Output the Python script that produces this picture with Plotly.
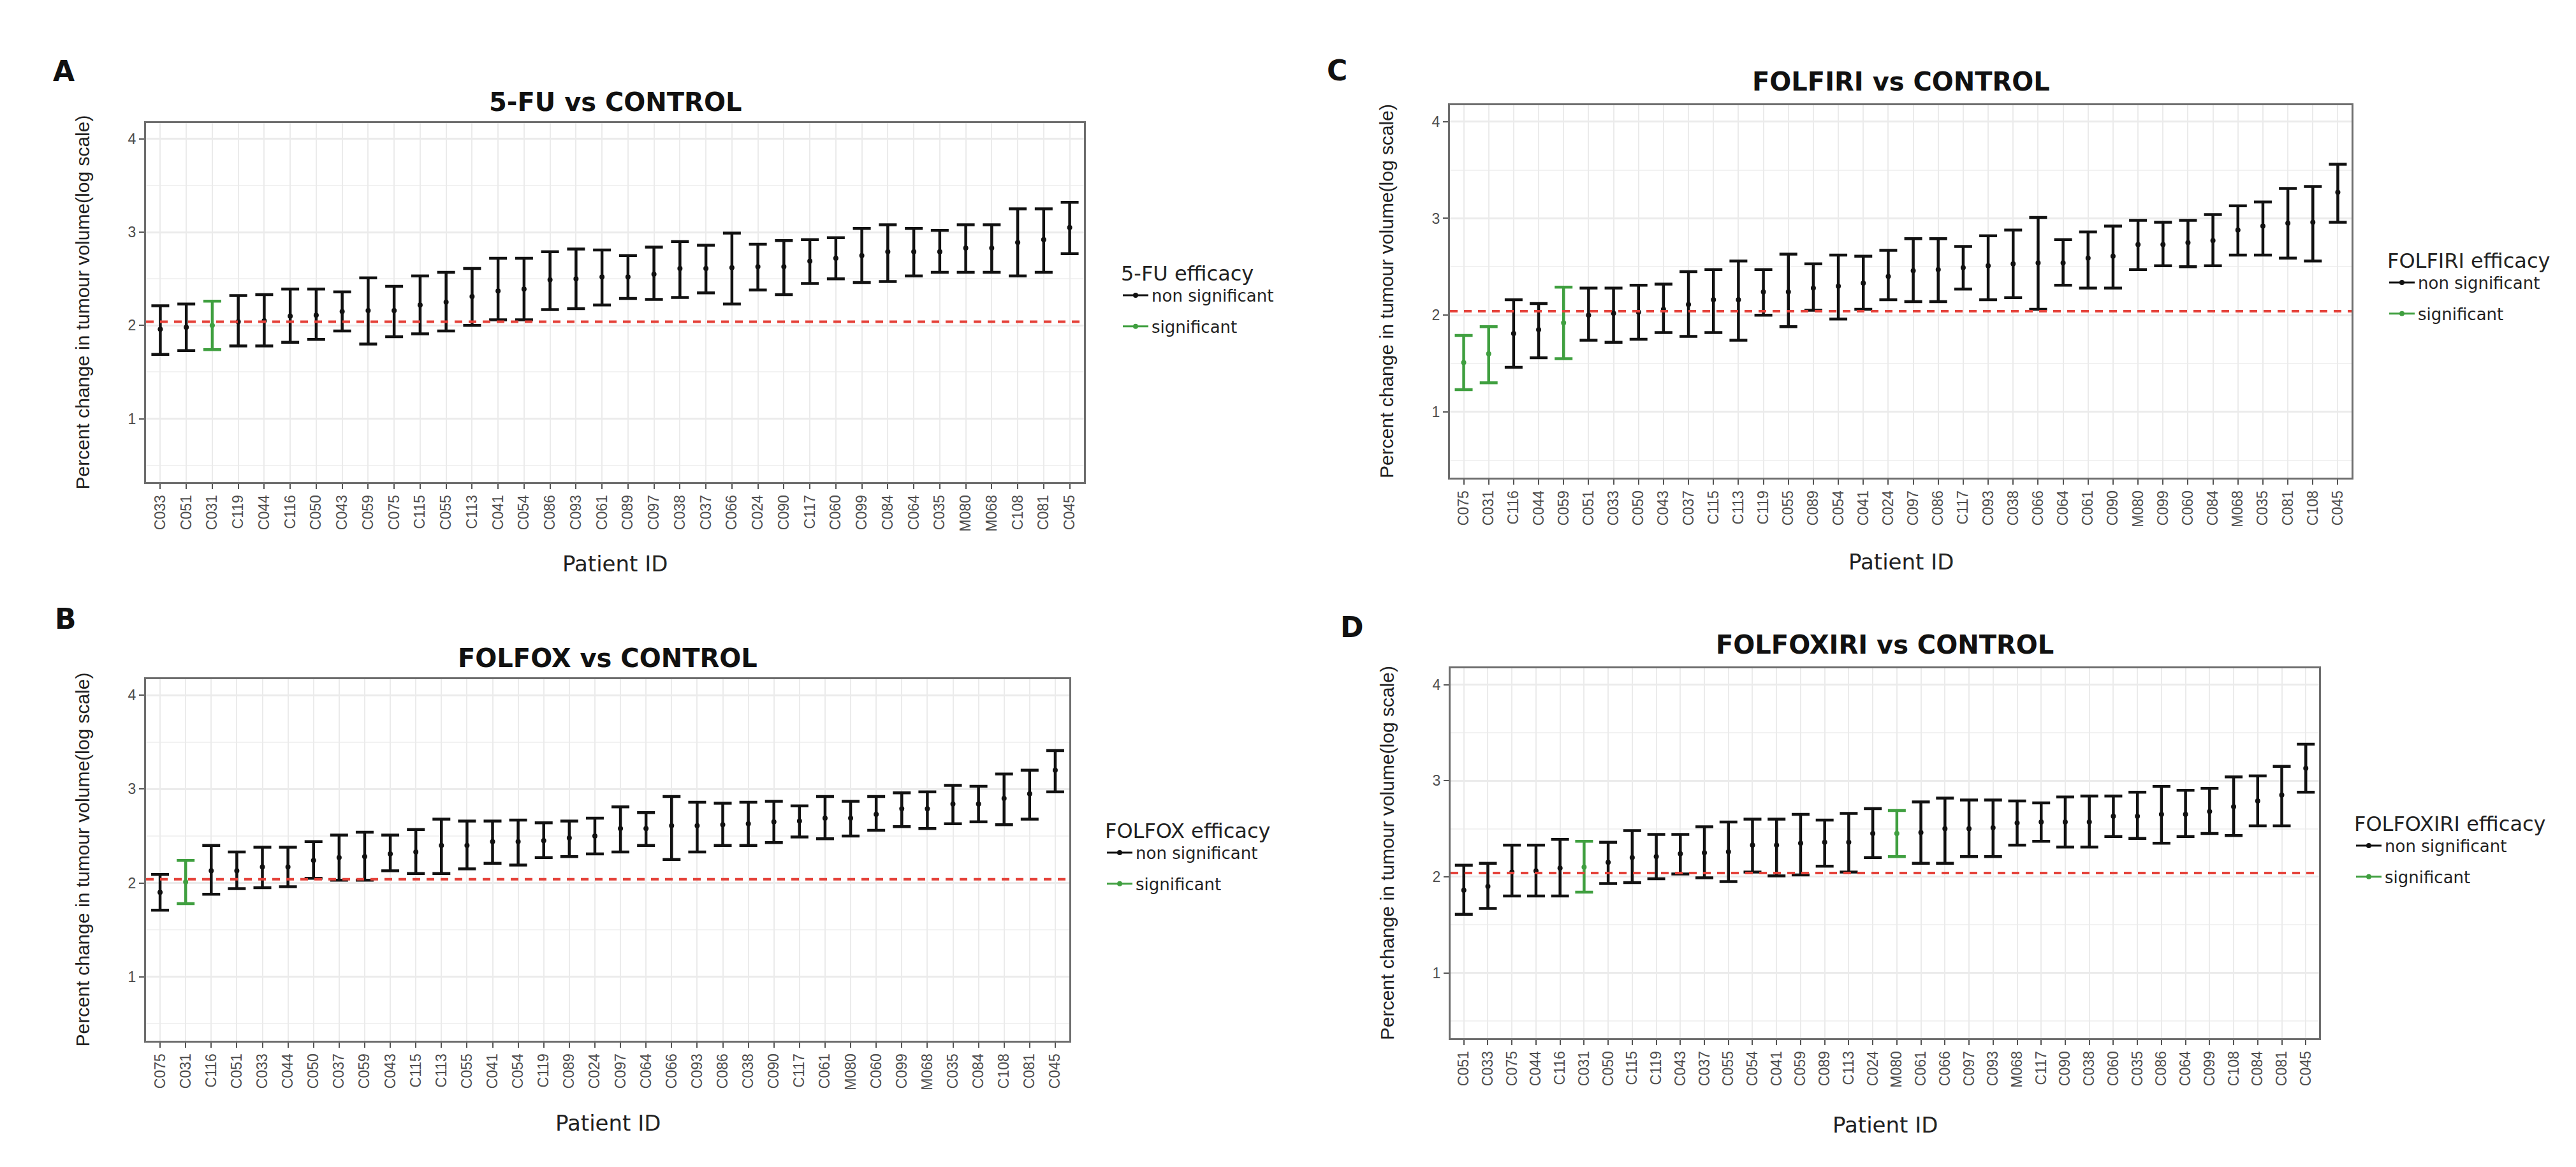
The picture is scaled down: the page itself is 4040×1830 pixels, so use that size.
import plotly.graph_objects as go

# ------------------------------------------------------------------ data
REF_LINE = 2.04  # control reference (red dashed line)

fu_ids = ["C033", "C051", "C031", "C119", "C044", "C116", "C050", "C043", "C059", "C075",
          "C115", "C055", "C113", "C041", "C054", "C086", "C093", "C061", "C089", "C097",
          "C038", "C037", "C066", "C024", "C090", "C117", "C060", "C099", "C084", "C064",
          "C035", "M080", "M068", "C108", "C081", "C045"]
fu_mean = [1.96, 1.98, 2.00, 2.04, 2.05, 2.10, 2.11, 2.15, 2.16, 2.16,
           2.22, 2.25, 2.31, 2.37, 2.39, 2.49, 2.50, 2.52, 2.52, 2.55,
           2.61, 2.61, 2.62, 2.63, 2.63, 2.69, 2.72, 2.75, 2.79, 2.79,
           2.79, 2.83, 2.83, 2.89, 2.92, 3.05]
fu_low = [1.69, 1.73, 1.74, 1.78, 1.78, 1.82, 1.85, 1.94, 1.80, 1.88,
          1.91, 1.94, 2.00, 2.06, 2.06, 2.17, 2.18, 2.22, 2.29, 2.28,
          2.30, 2.35, 2.23, 2.38, 2.33, 2.45, 2.50, 2.46, 2.47, 2.53,
          2.57, 2.57, 2.57, 2.53, 2.57, 2.77]
fu_high = [2.21, 2.23, 2.26, 2.32, 2.33, 2.39, 2.39, 2.36, 2.51, 2.42,
           2.53, 2.57, 2.61, 2.72, 2.72, 2.79, 2.82, 2.81, 2.75, 2.84,
           2.90, 2.86, 2.99, 2.87, 2.91, 2.92, 2.94, 3.04, 3.08, 3.04,
           3.02, 3.08, 3.08, 3.25, 3.25, 3.32]
fu_significant = ["C031"]

folfox_ids = ["C075", "C031", "C116", "C051", "C033", "C044", "C050", "C037", "C059", "C043",
              "C115", "C113", "C055", "C041", "C054", "C119", "C089", "C024", "C097", "C064",
              "C066", "C093", "C086", "C038", "C090", "C117", "C061", "M080", "C060", "C099",
              "M068", "C035", "C084", "C108", "C081", "C045"]
folfox_mean = [1.90, 2.01, 2.13, 2.13, 2.17, 2.17, 2.24, 2.27, 2.28, 2.31,
               2.33, 2.40, 2.40, 2.44, 2.44, 2.45, 2.48, 2.50, 2.58, 2.58,
               2.61, 2.61, 2.62, 2.63, 2.65, 2.66, 2.69, 2.69, 2.73, 2.79,
               2.79, 2.84, 2.84, 2.90, 2.95, 3.20]
folfox_low = [1.71, 1.78, 1.88, 1.94, 1.95, 1.96, 2.05, 2.03, 2.03, 2.13,
              2.10, 2.10, 2.15, 2.21, 2.19, 2.27, 2.28, 2.31, 2.33, 2.40,
              2.25, 2.33, 2.40, 2.40, 2.43, 2.49, 2.47, 2.50, 2.56, 2.60,
              2.58, 2.63, 2.65, 2.62, 2.68, 2.97]
folfox_high = [2.09, 2.24, 2.40, 2.33, 2.38, 2.38, 2.44, 2.51, 2.54, 2.51,
               2.57, 2.68, 2.66, 2.66, 2.67, 2.64, 2.66, 2.69, 2.81, 2.75,
               2.92, 2.86, 2.85, 2.86, 2.87, 2.82, 2.92, 2.87, 2.92, 2.96,
               2.97, 3.04, 3.03, 3.16, 3.20, 3.41]
folfox_significant = ["C031"]

folfiri_ids = ["C075", "C031", "C116", "C044", "C059", "C051", "C033", "C050", "C043", "C037",
               "C115", "C113", "C119", "C055", "C089", "C054", "C041", "C024", "C097", "C086",
               "C117", "C093", "C038", "C066", "C064", "C061", "C090", "M080", "C099", "C060",
               "C084", "M068", "C035", "C081", "C108", "C045"]
folfiri_mean = [1.51, 1.60, 1.81, 1.85, 1.92, 2.00, 2.02, 2.03, 2.06, 2.11,
                2.16, 2.16, 2.24, 2.24, 2.28, 2.30, 2.33, 2.40, 2.46, 2.47,
                2.49, 2.51, 2.53, 2.54, 2.54, 2.59, 2.61, 2.73, 2.73, 2.75,
                2.77, 2.88, 2.92, 2.95, 2.96, 3.27]
folfiri_low = [1.23, 1.30, 1.46, 1.56, 1.55, 1.74, 1.72, 1.75, 1.82, 1.78,
               1.82, 1.74, 2.00, 1.88, 2.05, 1.96, 2.06, 2.16, 2.14, 2.14,
               2.27, 2.16, 2.18, 2.06, 2.31, 2.28, 2.28, 2.47, 2.51, 2.50,
               2.51, 2.62, 2.62, 2.59, 2.56, 2.96]
folfiri_high = [1.79, 1.88, 2.16, 2.12, 2.29, 2.28, 2.28, 2.31, 2.32, 2.45,
                2.47, 2.56, 2.47, 2.63, 2.53, 2.62, 2.61, 2.67, 2.79, 2.79,
                2.71, 2.82, 2.88, 3.01, 2.78, 2.86, 2.92, 2.98, 2.96, 2.98,
                3.04, 3.13, 3.17, 3.31, 3.33, 3.56]
folfiri_significant = ["C075", "C031", "C059"]

folfoxiri_ids = ["C051", "C033", "C075", "C044", "C116", "C031", "C050", "C115", "C119", "C043",
                 "C037", "C055", "C054", "C041", "C059", "C089", "C113", "C024", "M080", "C061",
                 "C066", "C097", "C093", "M068", "C117", "C090", "C038", "C060", "C035", "C086",
                 "C064", "C099", "C108", "C084", "C081", "C045"]
folfoxiri_mean = [1.86, 1.90, 2.05, 2.06, 2.09, 2.10, 2.15, 2.20, 2.21, 2.24,
                  2.25, 2.26, 2.33, 2.33, 2.35, 2.36, 2.36, 2.45, 2.45, 2.46,
                  2.50, 2.50, 2.51, 2.56, 2.57, 2.57, 2.57, 2.63, 2.63, 2.65,
                  2.65, 2.68, 2.73, 2.79, 2.85, 3.13]
folfoxiri_low = [1.61, 1.67, 1.80, 1.80, 1.80, 1.84, 1.93, 1.94, 1.98, 2.03,
                 1.99, 1.95, 2.05, 2.01, 2.02, 2.11, 2.05, 2.20, 2.21, 2.14,
                 2.14, 2.21, 2.21, 2.33, 2.37, 2.31, 2.31, 2.42, 2.40, 2.35,
                 2.42, 2.45, 2.43, 2.53, 2.53, 2.88]
folfoxiri_high = [2.12, 2.14, 2.33, 2.33, 2.39, 2.37, 2.36, 2.48, 2.44, 2.44,
                  2.52, 2.57, 2.60, 2.60, 2.65, 2.59, 2.66, 2.71, 2.69, 2.78,
                  2.82, 2.80, 2.80, 2.79, 2.77, 2.83, 2.84, 2.84, 2.88, 2.94,
                  2.90, 2.92, 3.04, 3.05, 3.15, 3.38]
folfoxiri_significant = ["C031", "M080"]

y_tick_values = [1, 2, 3, 4]

# ------------------------------------------------------------------ layout helpers
PAGE_W, PAGE_H = 4024, 1814
OFF = 8  # default body margin of the page


def fx(px):
    return (px - OFF) / PAGE_W


def fy(py):
    return 1 - (py - OFF) / PAGE_H


BLACK = "#111111"
GREEN = "#3f9f3f"
GRID = "#ebebeb"
BORDER = "#6e6e6e"
TICKTXT = "#4d4d4d"

panels = [
    dict(ids=fu_ids, mean=fu_mean, low=fu_low, high=fu_high, sig=fu_significant,
         title="5-FU vs CONTROL", legend_title="5-FU efficacy", letter="A",
         dx=(229, 1700), dy=(193, 756), title_y=160, letter_xy=(100, 111),
         ytitle_x=129, xtitle_y=884, leg_x=1756, leg_top=398),
    dict(ids=folfox_ids, mean=folfox_mean, low=folfox_low, high=folfox_high, sig=folfox_significant,
         title="FOLFOX vs CONTROL", legend_title="FOLFOX efficacy", letter="B",
         dx=(229, 1677), dy=(1065, 1632), title_y=1032, letter_xy=(103, 970),
         ytitle_x=129, xtitle_y=1761, leg_x=1731, leg_top=1272),
    dict(ids=folfiri_ids, mean=folfiri_mean, low=folfiri_low, high=folfiri_high, sig=folfiri_significant,
         title="FOLFIRI vs CONTROL", legend_title="FOLFIRI efficacy", letter="C",
         dx=(2274, 3688), dy=(165, 749), title_y=128, letter_xy=(2097, 110),
         ytitle_x=2175, xtitle_y=881, leg_x=3742, leg_top=378),
    dict(ids=folfoxiri_ids, mean=folfoxiri_mean, low=folfoxiri_low, high=folfoxiri_high, sig=folfoxiri_significant,
         title="FOLFOXIRI vs CONTROL", legend_title="FOLFOXIRI efficacy", letter="D",
         dx=(2275, 3637), dy=(1048, 1628), title_y=1011, letter_xy=(2120, 984),
         ytitle_x=2175, xtitle_y=1764, leg_x=3690, leg_top=1261),
]

fig = go.Figure()
layout = dict(
    width=PAGE_W, height=PAGE_H,
    margin=dict(l=0, r=0, t=0, b=0),
    paper_bgcolor="white", plot_bgcolor="white",
    font=dict(family="Liberation Sans, Arial, sans-serif", color="#222222"),
    annotations=[], shapes=[],
)

for i, p in enumerate(panels):
    n = "" if i == 0 else str(i + 1)
    xa, ya = "x" + n, "y" + n
    leg = "legend" + n

    for group, color in (("non significant", BLACK), ("significant", GREEN)):
        keep = [(k in p["sig"]) == (group == "significant") for k in p["ids"]]
        xs = [k for k, m in zip(p["ids"], keep) if m]
        ms = [v for v, m in zip(p["mean"], keep) if m]
        hi = [h - v for h, v, m in zip(p["high"], p["mean"], keep) if m]
        lo = [v - l for l, v, m in zip(p["low"], p["mean"], keep) if m]
        fig.add_trace(go.Scatter(
            x=xs, y=ms, mode="markers", xaxis=xa, yaxis=ya,
            marker=dict(color=color, size=8),
            error_y=dict(type="data", symmetric=False, array=hi, arrayminus=lo,
                         color=color, thickness=4.5, width=14),
            showlegend=False, hoverinfo="x+y"))
        # legend entry (line with a dot, as in the key)
        fig.add_trace(go.Scatter(
            x=[None], y=[None], mode="lines+markers", xaxis=xa, yaxis=ya,
            name=group, legend=leg, legendgroup=leg + group,
            line=dict(color=color, width=3), marker=dict(color=color, size=8)))

    layout["xaxis" + n] = dict(
        domain=[fx(p["dx"][0]), fx(p["dx"][1])], anchor=ya,
        type="category", categoryorder="array", categoryarray=p["ids"],
        range=[-0.55, len(p["ids"]) - 0.45],
        tickangle=-90, tickfont=dict(size=23, color=TICKTXT, family="Liberation Sans"),
        ticks="outside", ticklen=8, tickwidth=2, tickcolor="#555555",
        showgrid=True, gridcolor=GRID, gridwidth=2,
        showline=True, linecolor=BORDER, linewidth=3, mirror=True, zeroline=False)
    layout["yaxis" + n] = dict(
        domain=[fy(p["dy"][1]), fy(p["dy"][0])], anchor=xa,
        range=[0.32, 4.17], tickvals=y_tick_values,
        tickfont=dict(size=23, color=TICKTXT, family="Liberation Sans"),
        ticks="outside", ticklen=8, tickwidth=2, tickcolor="#555555",
        showgrid=True, gridcolor=GRID, gridwidth=3,
        minor=dict(dtick=0.5, showgrid=True, gridcolor="#f2f2f2", gridwidth=1.5),
        showline=True, linecolor=BORDER, linewidth=3, mirror=True, zeroline=False)

    layout[leg] = dict(
        x=fx(p["leg_x"]), y=fy(p["leg_top"]), xanchor="left", yanchor="top",
        title=dict(text=p["legend_title"], font=dict(size=32, family="DejaVu Sans", color="#222222")),
        font=dict(size=26, family="DejaVu Sans", color="#222222"),
        tracegroupgap=12, bgcolor="rgba(0,0,0,0)", itemwidth=40)

    layout["shapes"].append(dict(
        type="line", xref=xa + " domain", x0=0, x1=1, yref=ya, y0=REF_LINE, y1=REF_LINE,
        line=dict(color="#e5423a", width=4, dash="12px,10px"), layer="above"))

    cx = (p["dx"][0] + p["dx"][1]) / 2
    cy = (p["dy"][0] + p["dy"][1]) / 2
    layout["annotations"] += [
        dict(text="<b>" + p["title"] + "</b>", x=fx(cx), y=fy(p["title_y"]), xref="paper", yref="paper",
             xanchor="center", yanchor="middle", showarrow=False,
             font=dict(size=40, family="DejaVu Sans", color="#111111")),
        dict(text="<b>" + p["letter"] + "</b>", x=fx(p["letter_xy"][0]), y=fy(p["letter_xy"][1]),
             xref="paper", yref="paper", xanchor="center", yanchor="middle", showarrow=False,
             font=dict(size=44, family="DejaVu Sans", color="#111111")),
        dict(text="Percent change in tumour volume(log scale)", x=fx(p["ytitle_x"]), y=fy(cy),
             xref="paper", yref="paper", xanchor="center", yanchor="middle", showarrow=False,
             textangle=-90, font=dict(size=30, family="Liberation Sans", color="#222222")),
        dict(text="Patient ID", x=fx(cx), y=fy(p["xtitle_y"]), xref="paper", yref="paper",
             xanchor="center", yanchor="middle", showarrow=False,
             font=dict(size=34, family="DejaVu Sans", color="#222222")),
    ]

fig.update_layout(**layout)
fig.write_html("out.html")
